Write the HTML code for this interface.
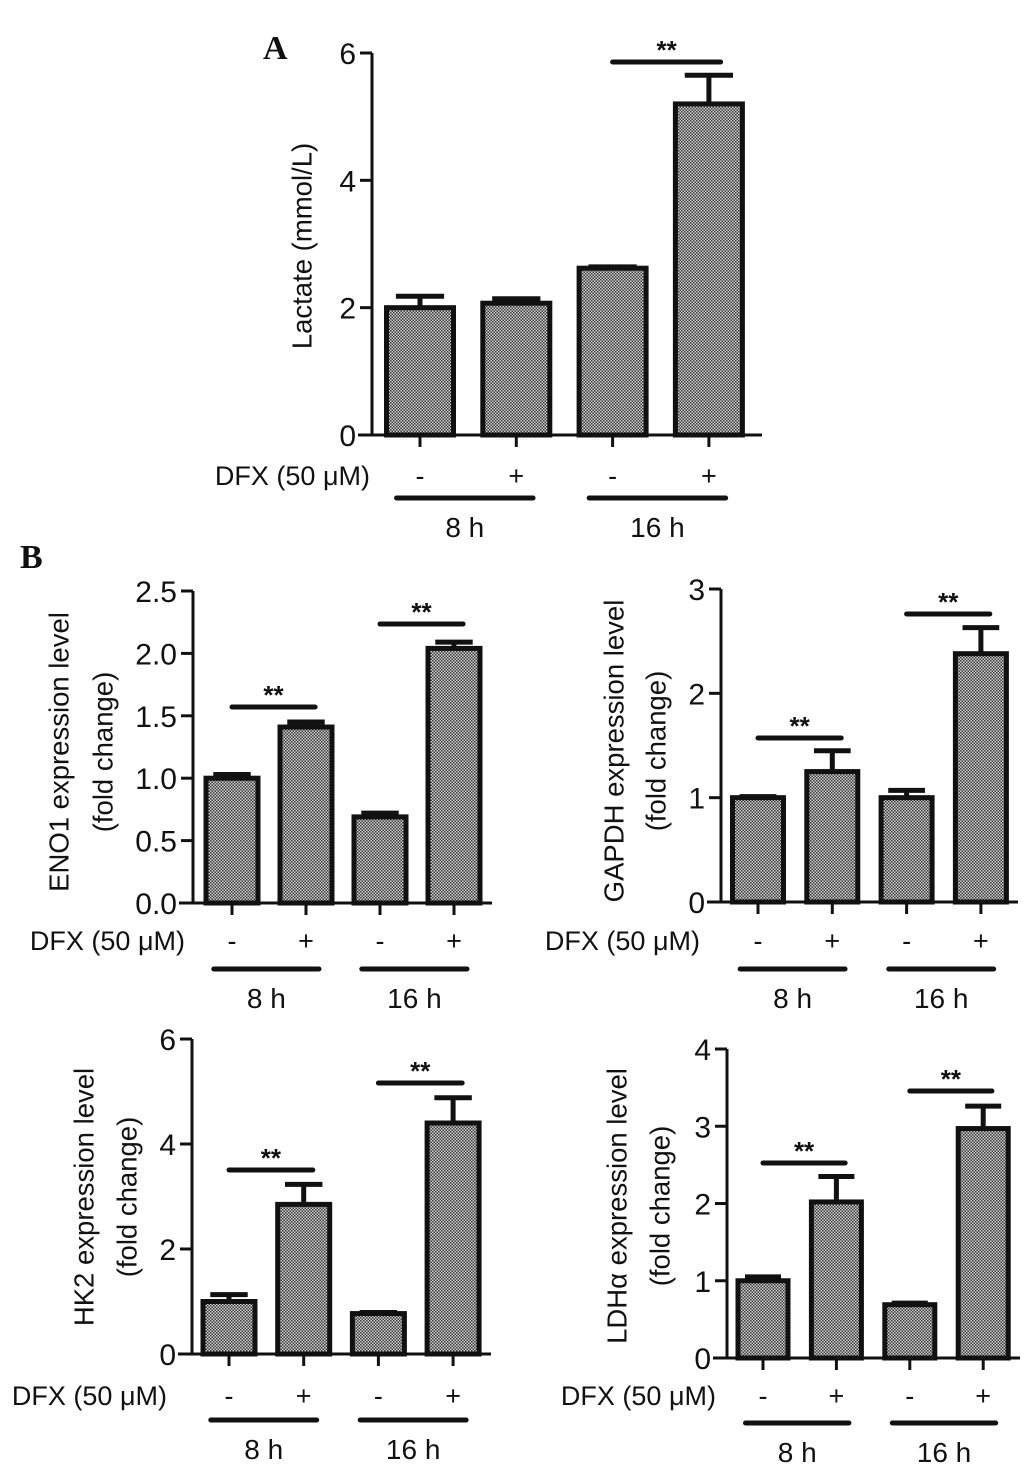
<!DOCTYPE html>
<html><head><meta charset="utf-8"><style>
html,body{margin:0;padding:0;background:#fff}
svg{display:block}
text{font-family:"Liberation Sans",sans-serif;fill:#111}
</style></head><body>
<svg id="fig" width="1033" height="1467" viewBox="0 0 1033 1467" xmlns="http://www.w3.org/2000/svg">
<defs>
<pattern id="chk" width="3" height="3" patternUnits="userSpaceOnUse">
<rect width="3" height="3" fill="#d0d0d0"/>
<rect width="1.5" height="1.5" fill="#3a3a3a"/>
<rect x="1.5" y="1.5" width="1.5" height="1.5" fill="#3a3a3a"/>
</pattern>
</defs>
<text x="263" y="59" style="font-family:'Liberation Serif',serif;font-weight:bold;font-size:34px">A</text>
<text x="20" y="568" style="font-family:'Liberation Serif',serif;font-weight:bold;font-size:34px">B</text>
</svg>
<script>
// Panel A: Lactate
const lactateValues = [2.0, 2.07, 2.62, 5.2];
const lactateErrors = [0.18, 0.07, 0.02, 0.45];
const lactateTicks = ["0", "2", "4", "6"];
// ENO1
const eno1Values = [1.0, 1.41, 0.69, 2.04];
const eno1Errors = [0.03, 0.04, 0.03, 0.05];
const eno1Ticks = ["0.0", "0.5", "1.0", "1.5", "2.0", "2.5"];
// GAPDH
const gapdhValues = [1.0, 1.25, 1.0, 2.38];
const gapdhErrors = [0.01, 0.2, 0.07, 0.25];
const gapdhTicks = ["0", "1", "2", "3"];
// HK2
const hk2Values = [1.0, 2.85, 0.77, 4.4];
const hk2Errors = [0.13, 0.38, 0.02, 0.48];
const hk2Ticks = ["0", "2", "4", "6"];
// LDHa
const ldhValues = [1.0, 2.02, 0.69, 2.97];
const ldhErrors = [0.05, 0.33, 0.02, 0.29];
const ldhTicks = ["0", "1", "2", "3", "4"];
const dfxSigns = ["-", "+", "-", "+"];
const timeGroups = ["8 h", "16 h"];

const NS = "http://www.w3.org/2000/svg";
const svg = document.getElementById("fig");
function mk(tag, attrs, parent) {
  const e = document.createElementNS(NS, tag);
  for (const k in attrs) e.setAttribute(k, attrs[k]);
  (parent || svg).appendChild(e);
  return e;
}
function panel(p) {
  const g = mk("g", {});
  
  
  const max = parseFloat(p.ticks[p.ticks.length - 1]);
  const y = v => p.y0 - (v / max) * (p.y0 - p.yTop);
  const x = i => p.x0 + i * p.step;
  const hw = p.bw / 2;
  p.values.forEach((v, i) => {
    const e = p.errors[i];
    const cx = x(i);
    const eb = mk("path", {d: `M${cx} ${y(v)} V${y(v + e)} M${cx - hw * 0.72} ${y(v + e)} H${cx + hw * 0.72}`, stroke: "#111", "stroke-width": 5, fill: "none"}, g);
    
    
    const r = mk("rect", {x: cx - hw, y: y(v), width: p.bw, height: p.y0 - y(v), fill: "url(#chk)", stroke: "#111", "stroke-width": 5}, g);
    
    
    const tk = mk("line", {x1: cx, x2: cx, y1: p.y0, y2: p.y0 + 12, stroke: "#111", "stroke-width": 3}, g);
    
    
    const s = mk("text", {x: cx, y: p.dfxY + 10, "text-anchor": "middle", "font-size": 27}, g);
    s.textContent = dfxSigns[i];
    
    
  });
  const ax = mk("path", {d: `M${p.axX} ${p.yTop} V${p.y0} M${p.axX - 14} ${p.y0} H${p.axEnd}`, stroke: "#111", "stroke-width": 3, fill: "none"}, g);
  
  
  p.ticks.forEach(t => {
    const ty = y(parseFloat(t));
    const l = mk("line", {x1: p.axX - 12, x2: p.axX, y1: ty, y2: ty, stroke: "#111", "stroke-width": 3}, g);
    
    
    const tt = mk("text", {x: p.axX - 16, y: ty + 11, "text-anchor": "end", "font-size": 30}, g);
    tt.textContent = t;
    
    
  });
  p.title.forEach((line, k) => {
    const tx = p.titleX + k * p.titleGap;
    const t = mk("text", {x: tx, y: p.titleY, "text-anchor": "middle", "font-size": 27.5, "dominant-baseline": "central", transform: `rotate(-90 ${tx} ${p.titleY})`}, g);
    t.textContent = line;
    
    
  });
  const d = mk("text", {x: p.dfxX, y: p.dfxY + 10, "text-anchor": "end", "font-size": 27}, g);
  d.textContent = "DFX (50 \u03bcM)";
  
  
  [[0, 1], [2, 3]].forEach((pr, k) => {
    const a = x(pr[0]) - hw * 0.7, b = x(pr[1]) + hw * 0.5;
    const l = mk("line", {x1: a, x2: b, y1: p.grpY, y2: p.grpY, stroke: "#111", "stroke-width": 5, "stroke-linecap": "round"}, g);
    
    
    const t = mk("text", {x: (a + b) / 2, y: p.grpY + 39, "text-anchor": "middle", "font-size": 28}, g);
    t.textContent = timeGroups[k];
    
    
  });
  p.sig.forEach(s => {
    const a = x(s.a), b = x(s.b) + hw * 0.35;
    const l = mk("line", {x1: a, x2: b, y1: s.y, y2: s.y, stroke: "#111", "stroke-width": 5, "stroke-linecap": "round"}, g);
    
    
    const t = mk("text", {x: (a + b) / 2, y: s.y - 3, "text-anchor": "middle", "font-size": 26, "font-weight": "bold"}, g);
    t.textContent = "**";
    
    
  });
}
panel({name: "lactate-chart", values: lactateValues, errors: lactateErrors, ticks: lactateTicks,
  axX: 372, axEnd: 762, y0: 435, yTop: 53, x0: 420, step: 96.3, bw: 67, dfxX: 370, dfxY: 475, grpY: 498,
  title: ["Lactate (mmol/L)"], titleX: 302, titleGap: 0, titleY: 246, sig: [{a: 2, b: 3, y: 62}]});
panel({name: "eno1-chart", values: eno1Values, errors: eno1Errors, ticks: eno1Ticks,
  axX: 193, axEnd: 492, y0: 903, yTop: 591, x0: 232, step: 74, bw: 52, dfxX: 185, dfxY: 940, grpY: 969,
  title: ["ENO1 expression level", "(fold change)"], titleX: 59, titleGap: 44, titleY: 752, sig: [{a: 0, b: 1, y: 707}, {a: 2, b: 3, y: 624}]});
panel({name: "gapdh-chart", values: gapdhValues, errors: gapdhErrors, ticks: gapdhTicks,
  axX: 721, axEnd: 1018, y0: 902, yTop: 589, x0: 758, step: 74.3, bw: 51, dfxX: 700, dfxY: 940, grpY: 969,
  title: ["GAPDH expression level", "(fold change)"], titleX: 614, titleGap: 42, titleY: 751, sig: [{a: 0, b: 1, y: 738}, {a: 2, b: 3, y: 614}]});
panel({name: "hk2-chart", values: hk2Values, errors: hk2Errors, ticks: hk2Ticks,
  axX: 192, axEnd: 491, y0: 1354, yTop: 1039, x0: 229, step: 74.7, bw: 52, dfxX: 167, dfxY: 1395, grpY: 1420,
  title: ["HK2 expression level", "(fold change)"], titleX: 84, titleGap: 43, titleY: 1197, sig: [{a: 0, b: 1, y: 1170}, {a: 2, b: 3, y: 1083}]});
panel({name: "ldha-chart", values: ldhValues, errors: ldhErrors, ticks: ldhTicks,
  axX: 727, axEnd: 1020, y0: 1358, yTop: 1049, x0: 763, step: 73.4, bw: 50, dfxX: 716, dfxY: 1395, grpY: 1423,
  title: ["LDH\u03b1 expression level", "(fold change)"], titleX: 617, titleGap: 43, titleY: 1206, sig: [{a: 0, b: 1, y: 1163}, {a: 2, b: 3, y: 1091}]});
</script>
</body></html>
